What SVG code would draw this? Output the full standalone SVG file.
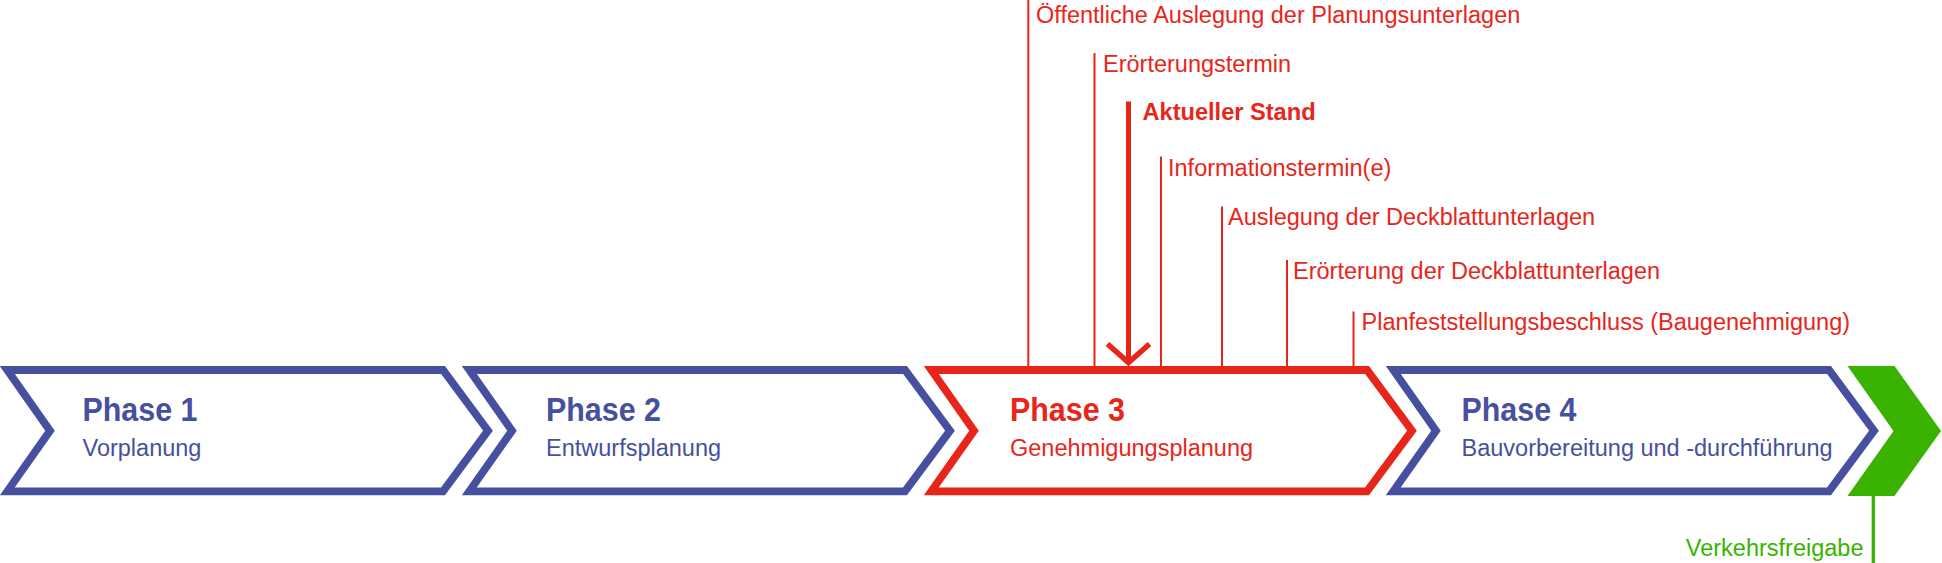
<svg xmlns="http://www.w3.org/2000/svg" width="1942" height="563" viewBox="0 0 1942 563">
<style>
.bg{fill:#ffffff}
.ph{fill:none;stroke-width:7.8;stroke-linejoin:miter;stroke-miterlimit:10}
.blue{stroke:#46509E}
.red{stroke:#E8251A}
.tb{fill:#46509E}
.tr{fill:#E8251A}
.tg{fill:#3AB200}
.title{font-family:"Liberation Sans",Arial,sans-serif;font-weight:bold;font-size:34px}
.sub{font-family:"Liberation Sans",Arial,sans-serif;font-size:23.5px}
.ann{font-family:"Liberation Sans",Arial,sans-serif;font-size:23.5px;fill:#E8251A}
.annb{font-family:"Liberation Sans",Arial,sans-serif;font-size:23.6px;font-weight:bold;fill:#E8251A}
.tick{stroke:#E8251A;stroke-width:2;fill:none}
</style>
<rect class="bg" x="0" y="0" width="1942" height="563"/>
<g id="connectors">
  <line class="tick" x1="1028.3" y1="0" x2="1028.3" y2="368"/>
  <line class="tick" x1="1094.5" y1="53" x2="1094.5" y2="368"/>
  <line class="tick" x1="1161" y1="156.5" x2="1161" y2="368"/>
  <line class="tick" x1="1222" y1="206.5" x2="1222" y2="368"/>
  <line class="tick" x1="1287" y1="260" x2="1287" y2="368"/>
  <line class="tick" x1="1353.5" y1="311.5" x2="1353.5" y2="368"/>
  <g id="current-arrow" stroke="#E8251A" fill="none">
    <line x1="1128.5" y1="101.5" x2="1128.5" y2="362" stroke-width="5"/>
    <polyline points="1107.5,344 1128.5,362.5 1149.5,344" stroke-width="5.5" stroke-linejoin="miter"/>
  </g>
  <line x1="1873.3" y1="494" x2="1873.3" y2="563" stroke="#3AB200" stroke-width="3.3"/>
</g>
<g id="phase1">
  <polygon class="ph blue" points="7.3,370 443,370 488,430.7 443,491.3 7.3,491.3 50,430.7"/>
  <text class="title tb" x="82.5" y="421" textLength="115" lengthAdjust="spacingAndGlyphs">Phase 1</text>
  <text class="sub tb" x="82.5" y="455.5">Vorplanung</text>
</g>
<g id="phase2">
  <polygon class="ph blue" points="469.3,370 905,370 950,430.7 905,491.3 469.3,491.3 512,430.7"/>
  <text class="title tb" x="546" y="421" textLength="115" lengthAdjust="spacingAndGlyphs">Phase 2</text>
  <text class="sub tb" x="546" y="455.5">Entwurfsplanung</text>
</g>
<g id="phase3">
  <polygon class="ph red" points="931.3,370 1367,370 1412,430.7 1367,491.3 931.3,491.3 974,430.7"/>
  <text class="title tr" x="1010" y="421" textLength="115" lengthAdjust="spacingAndGlyphs">Phase 3</text>
  <text class="sub tr" x="1010" y="455.5">Genehmigungsplanung</text>
</g>
<g id="phase4">
  <polygon class="ph blue" points="1393.3,370 1829,370 1874,430.7 1829,491.3 1393.3,491.3 1436,430.7"/>
  <text class="title tb" x="1461.5" y="421" textLength="115" lengthAdjust="spacingAndGlyphs">Phase 4</text>
  <text class="sub tb" x="1461.5" y="455.5">Bauvorbereitung und -durchführung</text>
</g>
<g id="release">
  <polygon fill="#3AB200" points="1847.5,366 1894.5,366 1941,431 1894.5,496 1847.5,496 1893.5,431"/>
  <text class="sub tg" x="1863.5" y="556" text-anchor="end">Verkehrsfreigabe</text>
</g>
<g id="annotations">
  <text id="ann1" class="ann" x="1036" y="22.5">Öffentliche Auslegung der Planungsunterlagen</text>
  <text id="ann2" class="ann" x="1103" y="72">Erörterungstermin</text>
  <text id="ann3" class="annb" x="1142.5" y="119.5">Aktueller Stand</text>
  <text id="ann4" class="ann" x="1168" y="175.5">Informationstermin(e)</text>
  <text id="ann5" class="ann" x="1228" y="225">Auslegung der Deckblattunterlagen</text>
  <text id="ann6" class="ann" x="1293" y="279">Erörterung der Deckblattunterlagen</text>
  <text id="ann7" class="ann" x="1361.5" y="330">Planfeststellungsbeschluss (Baugenehmigung)</text>
</g>
</svg>
